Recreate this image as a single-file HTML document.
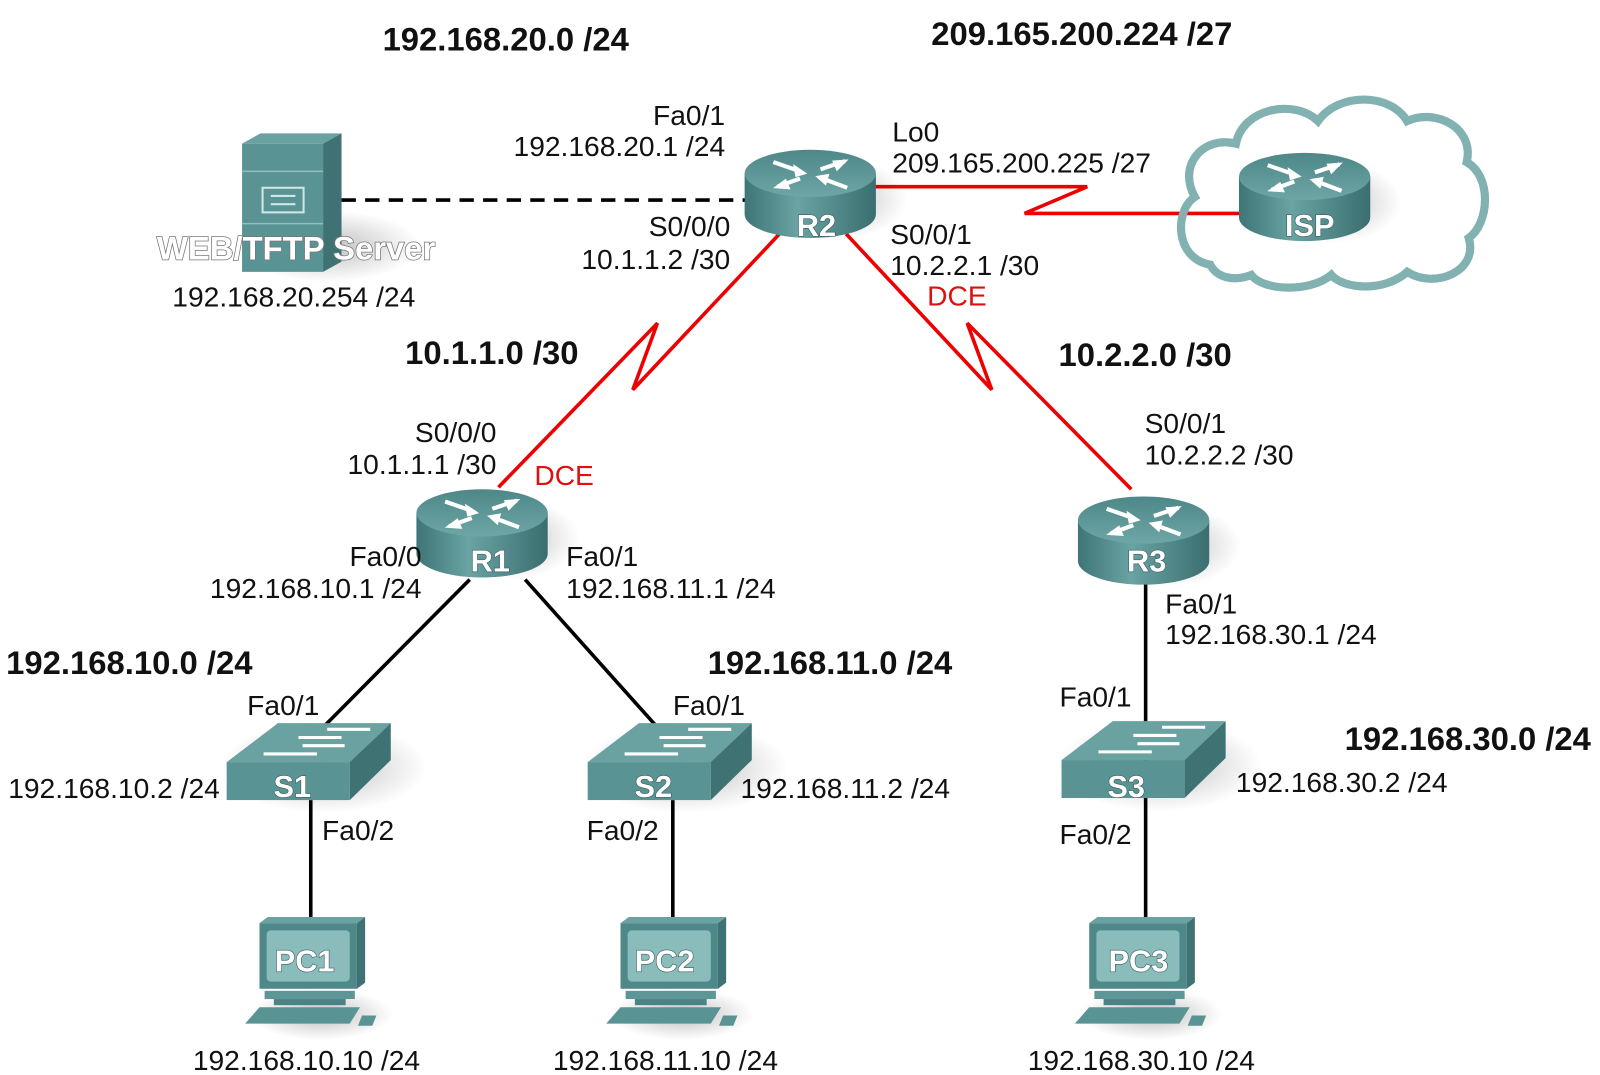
<!DOCTYPE html>
<html><head><meta charset="utf-8"><style>
html,body{margin:0;padding:0;background:#fff;width:1600px;height:1075px;overflow:hidden}
svg{display:block}
text{font-family:"Liberation Sans",Arial,sans-serif}
.l{font-size:27.5px;fill:#111}
.b{font-size:32px;font-weight:bold;fill:#111}
.r{font-size:27.5px;fill:#e01010}
.dl{font-size:30px;font-weight:bold;fill:#fff;stroke:#3a5f60;stroke-width:1.2px;paint-order:stroke}
</style></head><body>
<svg width="1600" height="1075" viewBox="0 0 1560 1048" xmlns="http://www.w3.org/2000/svg">
<defs>
<linearGradient id="side" x1="0" x2="1" y1="0" y2="0">
<stop offset="0" stop-color="#3e7576"/><stop offset="0.4" stop-color="#6aa3a3"/><stop offset="1" stop-color="#3a6e6f"/>
</linearGradient>
<linearGradient id="top" x1="0" x2="0" y1="0" y2="1">
<stop offset="0" stop-color="#4e8788"/><stop offset="1" stop-color="#6ea6a6"/>
</linearGradient>
<radialGradient id="sh" cx="0.5" cy="0.5" r="0.5">
<stop offset="0" stop-color="#000" stop-opacity="0.25"/><stop offset="1" stop-color="#000" stop-opacity="0"/>
</radialGradient>
<g id="router">
<ellipse cx="25" cy="25" rx="70" ry="40" fill="url(#sh)"/>
<path d="M-64,0 L-64,40 A64,23 0 0 0 64,40 L64,0 Z" fill="url(#side)"/>
<ellipse cx="0" cy="0" rx="64" ry="23" fill="url(#top)"/>
<g stroke="#fff" stroke-width="4" fill="#fff">
<line x1="-36" y1="-11" x2="-10" y2="-2"/><polygon points="-4,0 -16,-8 -14,3" stroke-width="1"/>
<line x1="34" y1="-12" x2="10" y2="-4"/><polygon points="36,-13 22,-12 26,-3" stroke-width="1"/>
<line x1="-10" y1="5" x2="-32" y2="13"/><polygon points="-35,14 -24,6 -20,15" stroke-width="1"/>
<line x1="36" y1="14" x2="12" y2="5"/><polygon points="6,3 18,1 15,11" stroke-width="1"/>
</g>
</g>
<g id="switch">
<ellipse cx="95" cy="5" rx="100" ry="45" fill="url(#sh)"/>
<polygon points="0,0 120,0 160,-38 50,-38" fill="#6aa2a2"/>
<polygon points="120,0 160,-38 160,-2 120,37" fill="#3e7273"/>
<rect x="0" y="0" width="120" height="37" fill="#5a9394"/>
<g stroke="#fff" stroke-width="3">
<line x1="98" y1="-32" x2="140" y2="-32"/><line x1="70" y1="-24" x2="112" y2="-24"/>
<line x1="74" y1="-16" x2="115" y2="-16"/><line x1="36" y1="-8" x2="88" y2="-8"/>
</g>
</g>
<g id="pc">
<ellipse cx="60" cy="95" rx="70" ry="25" fill="url(#sh)"/>
<polygon points="0,6 8,0 103,0 95,6" fill="#6aa2a2"/>
<polygon points="95,6 103,0 103,64 95,70" fill="#3e7273"/>
<rect x="0" y="6" width="95" height="64" fill="#4f8889"/>
<rect x="7" y="13" width="81" height="50" rx="4" fill="#8bbcbc"/>
<rect x="5" y="72" width="88" height="8" fill="#5e9596"/>
<rect x="14" y="80" width="70" height="6" fill="#4a8384"/>
<polygon points="0,88 98,88 88,104 -14,104" fill="#5a9394"/>
<polygon points="100,96 114,96 110,106 96,106" fill="#5a9394"/>
</g>
</defs>

<line x1="333" y1="195" x2="727" y2="195" stroke="#000" stroke-width="3.5" stroke-dasharray="14,9"/>
<g stroke="#e00" stroke-width="3.5" fill="none" stroke-linejoin="miter">
<polyline points="853,182 1060,182 999,208 1212,208"/>
<polyline points="486,475 641,315 617,380 760,228"/>
<polyline points="825,228 967,380 943,315 1103,477"/>
</g>
<g stroke="#000" stroke-width="3.5">
<line x1="458" y1="565" x2="316" y2="708"/>
<line x1="512" y1="565" x2="640" y2="708"/>
<line x1="303" y1="780" x2="303" y2="895"/>
<line x1="656" y1="780" x2="656" y2="895"/>
<line x1="1117" y1="565" x2="1117" y2="895"/>
</g>

<path d="M1180,258 C1145,252 1145,205 1165,192 C1148,162 1172,132 1205,140 C1212,105 1262,96 1285,118 C1305,90 1355,90 1372,118 C1400,105 1438,125 1430,158 C1455,172 1452,218 1432,232 C1442,265 1398,282 1372,265 C1350,285 1310,282 1298,268 C1278,285 1232,284 1220,268 C1202,275 1186,270 1180,258 Z" fill="none" stroke="#82b1b2" stroke-width="8"/>

<ellipse cx="320" cy="240" rx="90" ry="35" fill="url(#sh)"/>
<polygon points="236,140 254,130 333,130 315,140" fill="#6aa2a2"/>
<polygon points="315,140 333,130 333,255 315,265" fill="#3e7273"/>
<rect x="236" y="140" width="79" height="125" fill="#5a9394"/>
<line x1="236" y1="167" x2="315" y2="167" stroke="#8fc0c0" stroke-width="1.5"/>
<line x1="236" y1="218" x2="315" y2="218" stroke="#8fc0c0" stroke-width="1.5"/>
<rect x="256" y="183" width="40" height="24" fill="none" stroke="#cfe6e6" stroke-width="2"/>
<line x1="264" y1="191" x2="288" y2="191" stroke="#cfe6e6" stroke-width="2"/>
<line x1="264" y1="199" x2="288" y2="199" stroke="#cfe6e6" stroke-width="2"/>

<use href="#router" x="790" y="169"/>
<use href="#router" x="470" y="500"/>
<use href="#router" x="1115" y="507"/>
<use href="#router" x="1272" y="172"/>
<use href="#switch" x="221" y="743"/>
<use href="#switch" x="573" y="743"/>
<use href="#switch" x="1035" y="741"/>
<use href="#pc" x="253" y="894"/>
<use href="#pc" x="605" y="894"/>
<use href="#pc" x="1062" y="894"/>

<text class="dl" x="796" y="230" text-anchor="middle">R2</text>
<text class="dl" x="478" y="557" text-anchor="middle">R1</text>
<text class="dl" x="1118" y="557" text-anchor="middle">R3</text>
<text class="dl" x="1277" y="230" text-anchor="middle">ISP</text>
<text class="dl" x="285" y="777" text-anchor="middle">S1</text>
<text class="dl" x="637" y="777" text-anchor="middle">S2</text>
<text class="dl" x="1098" y="777" text-anchor="middle">S3</text>
<text class="dl" x="297" y="947" text-anchor="middle">PC1</text>
<text class="dl" x="648" y="947" text-anchor="middle">PC2</text>
<text class="dl" x="1110" y="947" text-anchor="middle">PC3</text>
<text class="dl" x="153" y="253" style="font-size:32px;stroke:#777;stroke-width:1.5px">WEB/TFTP Server</text>

<text class="b" x="373" y="49">192.168.20.0 /24</text>
<text class="b" x="908" y="44">209.165.200.224 /27</text>
<text class="b" x="395" y="355">10.1.1.0 /30</text>
<text class="b" x="1032" y="357">10.2.2.0 /30</text>
<text class="b" x="6" y="657">192.168.10.0 /24</text>
<text class="b" x="690" y="657">192.168.11.0 /24</text>
<text class="b" x="1311" y="731">192.168.30.0 /24</text>

<text class="l" x="707" y="122" text-anchor="end">Fa0/1</text>
<text class="l" x="707" y="152" text-anchor="end">192.168.20.1 /24</text>
<text class="l" x="870" y="138">Lo0</text>
<text class="l" x="870" y="168">209.165.200.225 /27</text>
<text class="l" x="712" y="230" text-anchor="end">S0/0/0</text>
<text class="l" x="712" y="262" text-anchor="end">10.1.1.2 /30</text>
<text class="l" x="868" y="238">S0/0/1</text>
<text class="l" x="868" y="268">10.2.2.1 /30</text>
<text class="r" x="904" y="298">DCE</text>
<text class="l" x="168" y="299">192.168.20.254 /24</text>
<text class="l" x="484" y="431" text-anchor="end">S0/0/0</text>
<text class="l" x="484" y="462" text-anchor="end">10.1.1.1 /30</text>
<text class="r" x="521" y="473">DCE</text>
<text class="l" x="1116" y="422">S0/0/1</text>
<text class="l" x="1116" y="453">10.2.2.2 /30</text>
<text class="l" x="411" y="552" text-anchor="end">Fa0/0</text>
<text class="l" x="411" y="583" text-anchor="end">192.168.10.1 /24</text>
<text class="l" x="552" y="552">Fa0/1</text>
<text class="l" x="552" y="583">192.168.11.1 /24</text>
<text class="l" x="1136" y="598">Fa0/1</text>
<text class="l" x="1136" y="628">192.168.30.1 /24</text>
<text class="l" x="241" y="697">Fa0/1</text>
<text class="l" x="656" y="697">Fa0/1</text>
<text class="l" x="1033" y="689">Fa0/1</text>
<text class="l" x="8" y="778">192.168.10.2 /24</text>
<text class="l" x="722" y="778">192.168.11.2 /24</text>
<text class="l" x="1205" y="772">192.168.30.2 /24</text>
<text class="l" x="314" y="819">Fa0/2</text>
<text class="l" x="572" y="819">Fa0/2</text>
<text class="l" x="1033" y="823">Fa0/2</text>
<text class="l" x="188" y="1043">192.168.10.10 /24</text>
<text class="l" x="539" y="1043">192.168.11.10 /24</text>
<text class="l" x="1002" y="1043">192.168.30.10 /24</text>
</svg>
</body></html>
